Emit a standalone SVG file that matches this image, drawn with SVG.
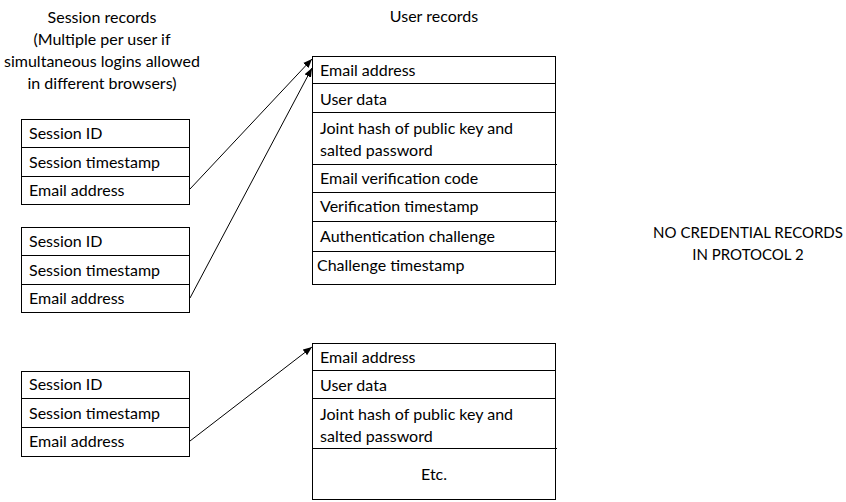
<svg xmlns="http://www.w3.org/2000/svg" width="846" height="502" viewBox="0 0 846 502">
<defs>
<style>
text{font-family:Lato,"Open Sans","Liberation Sans",sans-serif;font-size:16px;fill:#000}
.c{text-anchor:middle}
.n{font-size:15px}
.box{fill:#fff;stroke:#000;stroke-width:1}
.div{stroke:#000;stroke-width:1}
.conn{stroke:#000;stroke-width:1;fill:none;marker-end:url(#ah)}
</style>
<marker id="ah" viewBox="0 0 10 10" refX="10" refY="5" markerWidth="9" markerHeight="9" markerUnits="userSpaceOnUse" orient="auto"><path d="M0,1 L10,5 L0,9 z" fill="#000"/></marker>
</defs>
<rect width="846" height="502" fill="#fff"/>
<g id="title-sessions">
<text class="c" x="102" y="23">Session records</text>
<text class="c" x="102" y="45">(Multiple per user if</text>
<text class="c" x="102" y="67">simultaneous logins allowed</text>
<text class="c" x="102" y="89">in different browsers)</text>
</g>
<g id="title-users"><text class="c" x="434" y="22">User records</text></g>
<g id="note"><text class="c n" x="748" y="238">NO CREDENTIAL RECORDS</text><text class="c n" x="748" y="260">IN PROTOCOL 2</text></g>
<g id="session1">
<rect class="box" x="21.5" y="119.5" width="168" height="85"/>
<line class="div" x1="21.5" y1="147.5" x2="189.5" y2="147.5"/>
<line class="div" x1="21.5" y1="176.5" x2="189.5" y2="176.5"/>
<text x="29" y="139">Session ID</text>
<text x="29" y="168">Session timestamp</text>
<text x="29" y="196">Email address</text>
</g>
<g id="session2">
<rect class="box" x="21.5" y="227.5" width="168" height="85"/>
<line class="div" x1="21.5" y1="255.5" x2="189.5" y2="255.5"/>
<line class="div" x1="21.5" y1="284.5" x2="189.5" y2="284.5"/>
<text x="29" y="247">Session ID</text>
<text x="29" y="276">Session timestamp</text>
<text x="29" y="304">Email address</text>
</g>
<g id="session3">
<rect class="box" x="21.5" y="371.5" width="168" height="85"/>
<line class="div" x1="21.5" y1="398.5" x2="189.5" y2="398.5"/>
<line class="div" x1="21.5" y1="427.5" x2="189.5" y2="427.5"/>
<text x="29" y="390">Session ID</text>
<text x="29" y="419">Session timestamp</text>
<text x="29" y="447">Email address</text>
</g>
<g id="user1">
<rect class="box" x="312.5" y="56.5" width="243" height="228"/>
<line class="div" x1="312.5" y1="83.5" x2="555.5" y2="83.5"/>
<line class="div" x1="312.5" y1="112.5" x2="555.5" y2="112.5"/>
<line class="div" x1="312.5" y1="164.5" x2="557" y2="164.5"/>
<line class="div" x1="312.5" y1="192.5" x2="555.5" y2="192.5"/>
<line class="div" x1="312.5" y1="221.5" x2="557" y2="221.5"/>
<line class="div" x1="312.5" y1="251.5" x2="555.5" y2="251.5"/>
<text x="320" y="76">Email address</text>
<text x="320" y="105">User data</text>
<text x="320" y="134">Joint hash of public key and</text>
<text x="320" y="156">salted password</text>
<text x="320" y="184">Email verification code</text>
<text x="320" y="212">Verification timestamp</text>
<text x="320" y="242">Authentication challenge</text>
<text x="317" y="271">Challenge timestamp</text>
</g>
<g id="user2">
<rect class="box" x="312.5" y="343.5" width="243" height="156"/>
<line class="div" x1="312.5" y1="370.5" x2="555.5" y2="370.5"/>
<line class="div" x1="312.5" y1="398.5" x2="555.5" y2="398.5"/>
<line class="div" x1="312.5" y1="448.5" x2="557" y2="448.5"/>
<text x="320" y="363">Email address</text>
<text x="320" y="391">User data</text>
<text x="320" y="420">Joint hash of public key and</text>
<text x="320" y="442">salted password</text>
<text class="c" x="434" y="480">Etc.</text>
</g>
<g id="connectors">
<line class="conn" x1="190" y1="189" x2="312" y2="59"/>
<line class="conn" x1="190" y1="298" x2="312" y2="68"/>
<line class="conn" x1="190" y1="441" x2="312" y2="347"/>
</g>
</svg>
